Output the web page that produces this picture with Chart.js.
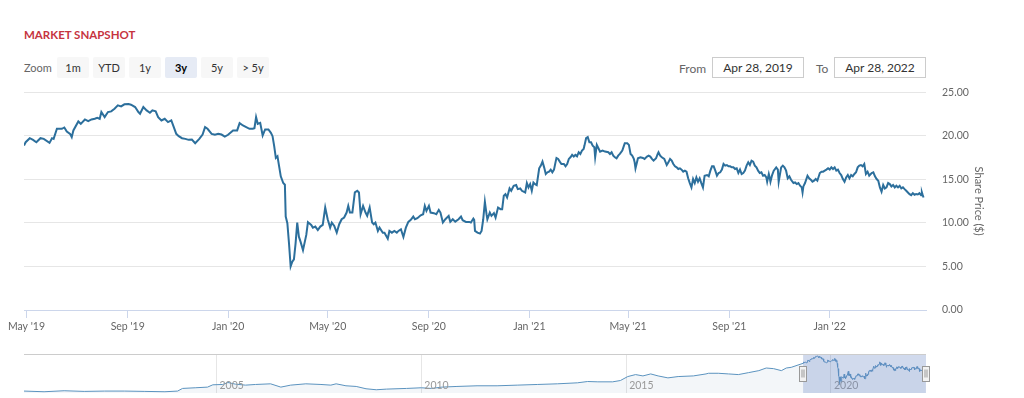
<!DOCTYPE html>
<html>
<head>
<meta charset="utf-8">
<script src="https://cdn.jsdelivr.net/npm/chart.js@4.4.0/dist/chart.umd.min.js"></script>
<style>
body{margin:0;width:1024px;height:398px;overflow:hidden;background:#fff;font-family:Lato,"Open Sans",sans-serif;position:relative}
#title{position:absolute;left:24px;top:28px;font-size:11.5px;font-weight:700;color:#c6343f}
.lbl{position:absolute;top:61px;font-size:11px;color:#666}
.btn{position:absolute;top:57px;width:32px;height:21px;line-height:21px;text-align:center;font-size:11px;color:#333;background:#f7f7f7;border-radius:2px}
.btn.on{background:#e6ebf5;font-weight:700;color:#000}
.box{position:absolute;top:57px;width:90px;height:19px;line-height:19px;border:1px solid #ccc;text-align:center;font-size:12px;color:#333}
canvas{position:absolute;left:0}
</style>
</head>
<body>
<div id="title">MARKET SNAPSHOT</div>
<span class="lbl" style="left:24px">Zoom</span>
<div class="btn" style="left:57px">1m</div>
<div class="btn" style="left:93px">YTD</div>
<div class="btn" style="left:129px">1y</div>
<div class="btn on" style="left:165px">3y</div>
<div class="btn" style="left:201px">5y</div>
<div class="btn" style="left:237px">&gt; 5y</div>
<span class="lbl" style="left:679px;font-size:12px">From</span>
<div class="box" style="left:712px">Apr 28, 2019</div>
<span class="lbl" style="left:816px;font-size:12px">To</span>
<div class="box" style="left:834px">Apr 28, 2022</div>
<canvas id="mainChart" width="989" height="270" style="top:70px"></canvas>
<canvas id="navChart" width="1024" height="48" style="top:350px"></canvas>
<script>
// share price, days counted from Apr 28, 2019
let startDate = '2019-04-28';
let endDate = '2022-04-28';
let days = [0,2,7,11,15,20,24,31,34,36,40,46,49,52,56,58,60,66,69,74,78,82,86,89,92,94,98,102,106,110,114,118,122,127,130,135,139,141,145,149,153,156,160,163,167,171,175,179,182,185,188,192,196,200,204,208,213,217,220,223,228,232,236,240,244,248,254,259,262,266,270,274,
278,280,282,284,287,290,293,297,300,302,304,306,308,310,312,315,317,318,320,322,324,326,328,330,332,334,336,339,343,345,349,351,354,357,360,363,366,369,372,374,377,380,383,386,389,392,394,396,399,402,405,407,409,412,415,417,420,423,425,427,430,432,436,438,442,444,447,450,453,455,458,461,464,467,470,473,475,478,482,485,487,489,492,494,498,501,504,506,509,512,516,518,521,524,528,531,533,537,541,
543,546,547,548,551,554,556,558,560,562,563,566,568,571,573,576,579,581,583,585,587,590,592,595,598,600,603,605,609,611,613,615,617,619,621,623,626,628,630,632,634,636,638,640,642,644,646,647,649,651,653,656,658,660,662,664,666,668,670,672,674,676,678,680,681,683,685,687,689,691,693,694,696,698,700,703,706,710,712,714,716,718,720,722,724,727,729,730,733,735,737,739,741,742,743,746,749,752,754,757,759,761,763,765,768,770,771,773,775,778,781,783,785,787,789,791,793,795,797,799,801,803,805,807,
809,811,813,815,817,819,821,823,825,827,830,832,834,836,838,840,842,844,846,848,850,852,854,856,858,860,862,864,866,868,870,872,874,876,878,880,882,884,886,888,890,892,894,896,898,900,902,903,905,906,907,909,911,914,916,917,920,922,924,926,928,930,932,935,937,939,941,943,945,946,947,949,952,954,956,958,960,962,964,967,969,971,973,975,977,979,981,983,985,987,989,991,993,995,997,999,1001,1003,1005,1007,1009,1011,1013,1015,1017,1019,1021,1023,1025,1027,1030,1032,1034,1036,1038,1040,1042,1044,1046,1048,1050,1052,1054,1056,1058,1060,1062,1064,1066,1068,1070,1072,1074,1076,1078,1080,1082,1084,1086,1088,1090,1091,1092,1093];
let prices = [18.88,19.27,19.73,19.54,19.27,19.73,19.65,19.19,19.73,19.65,20.81,20.81,20.96,20.5,20.23,19.85,20.62,21.65,21.38,21.88,21.69,21.88,21.96,22.08,21.96,22.73,22.15,22.73,22.81,23.12,23.5,23.38,23.62,23.65,23.58,23.31,22.73,22.54,23.31,22.92,22.65,22.92,22.81,22.15,21.77,21.96,21.58,21.77,21.0,20.23,19.96,19.73,19.65,19.54,19.58,19.15,19.65,20.15,21.0,20.81,20.23,20.12,20.23,20.15,19.92,20.12,20.62,20.62,21.46,21.19,21.0,20.81,
20.81,20.88,22.15,21.38,21.5,20.04,20.73,20.73,20.35,19.96,18.81,17.46,17.65,16.5,15.35,14.58,14.38,10.73,9.96,7.65,5.0,5.54,5.81,7.65,10.04,8.42,7.85,6.88,8.62,10.08,9.77,9.46,9.58,9.19,9.58,9.77,11.77,10.42,9.46,10.04,9.65,8.88,9.85,10.42,10.62,11.19,11.96,11.19,11.19,13.5,13.69,13.5,11.0,11.96,11.19,10.81,11.77,10.04,9.85,10.04,9.08,9.46,8.88,8.88,8.19,9.08,8.88,9.08,8.88,9.08,9.27,8.38,9.46,10.12,10.35,10.73,10.42,10.54,10.88,11.0,11.96,11.38,11.96,11.19,11.12,11.0,11.5,11.19,10.04,10.42,10.81,10.12,10.42,10.15,10.42,10.73,10.31,10.12,10.12,
10.04,10.5,10.35,9.08,8.88,8.77,9.08,10.42,12.42,11.0,10.42,11.19,10.81,11.12,10.62,11.77,11.58,11.58,13.12,13.31,12.92,13.96,13.69,14.27,14.35,13.88,13.96,13.69,13.5,14.58,14.08,14.46,13.69,14.65,14.46,14.35,16.27,16.58,17.04,16.38,15.62,15.81,15.88,16.12,15.81,16.12,17.04,17.46,17.35,17.04,16.77,16.77,16.5,16.77,17.35,17.54,17.81,17.62,17.81,17.65,18.12,17.92,18.31,18.5,18.88,19.73,19.85,19.27,19.27,18.88,18.69,17.54,18.96,18.58,18.19,18.31,18.19,18.12,17.92,18.12,17.73,17.54,17.42,17.73,17.92,18.31,18.88,19.15,19.15,18.96,17.92,17.73,17.35,16.96,16.27,17.42,17.54,17.46,17.35,17.62,17.73,17.62,17.35,17.15,17.42,17.92,18.12,17.73,17.54,17.35,16.65,16.96,17.35,17.15,16.77,16.5,16.38,16.19,16.27,16.12,15.88,16.0,15.88,15.12,
14.58,14.08,15.04,14.58,15.23,14.73,15.12,14.58,14.08,15.42,15.5,15.35,16.0,16.5,16.5,16.0,15.42,15.73,15.81,16.12,16.77,16.58,16.65,16.5,16.5,16.38,16.38,16.19,16.27,15.73,16.12,15.62,15.73,16.0,16.58,16.96,16.65,17.15,17.04,16.58,16.38,16.0,15.73,15.81,15.42,15.5,15.23,14.73,15.62,15.23,14.73,15.5,16.0,16.38,16.12,14.73,16.38,16.58,16.38,16.0,15.12,15.35,14.96,14.58,14.65,14.46,14.58,14.27,14.08,13.5,14.19,14.58,15.42,15.12,14.96,14.73,14.85,15.04,14.85,15.73,15.88,15.88,16.0,16.12,16.27,16.12,16.38,16.19,16.38,16.0,16.12,15.73,15.5,15.04,14.73,15.23,15.5,15.12,15.5,15.35,15.62,15.81,16.38,16.58,16.65,16.5,16.77,15.62,15.88,15.42,15.73,15.81,15.35,15.04,14.85,14.08,13.58,14.35,13.96,14.08,14.58,14.46,14.19,14.35,14.08,14.27,14.08,14.27,13.96,14.08,13.88,13.69,13.5,13.31,13.19,13.42,13.23,13.31,13.27,13.42,13.19,13.5,13.19,12.92];

let tickDates = ['2019-05-01','2019-09-01','2020-01-01','2020-05-01','2020-09-01','2021-01-01','2021-05-01','2021-09-01','2022-01-01'];
let tickLabels = ["May '19","Sep '19","Jan '20","May '20","Sep '20","Jan '21","May '21","Sep '21","Jan '22"];
let yTicks = [0,5,10,15,20,25];

// longer history for the navigator strip (decimal years)
let histYears = [2000.30,2000.79,2001.28,2001.77,2002.27,2002.76,2003.25,2003.74,2004.05,2004.17,2004.48,2004.78,2004.91,2005.15,2005.28,2005.46,2005.71,2005.95,2006.32,2006.57,2006.81,2007.18,2007.55,2007.79,2007.92,2008.16,2008.41,2008.65,2008.90,2009.15,2009.64,2010.00,2010.25,2010.50,2010.87,2011.36,2011.85,2012.34,2012.83,2013.32,2013.81,2014.06,2014.31,2014.67,2014.86,2015.04,2015.23,2015.41,2015.60,2015.78,2016.02,2016.27,2016.64,2016.95,2017.01,2017.25,2017.50,2017.74,2017.99,2018.24,2018.42,2018.60,2018.79,2018.91,2019.03,2019.22];
let histPrices = [0.67,0.23,0.88,0.45,0.67,0.67,0.45,0.23,0.67,2.4,2.83,3.26,4.78,5.0,6.29,5.21,4.56,5.0,5.43,3.26,4.56,5.43,5.0,4.56,5.43,4.13,3.7,2.18,1.53,1.96,2.4,2.83,2.4,3.26,3.7,4.13,4.13,4.56,5.0,5.43,6.08,6.94,6.73,6.73,7.59,10.19,11.49,10.62,11.92,10.62,9.32,10.19,10.62,11.92,12.35,12.35,11.92,11.49,12.78,14.08,15.81,15.38,14.08,15.81,16.25,17.98];
let navYears = [2005,2010,2015,2020];

const DAY = 86400000;
let t0 = Date.parse(startDate);
let totalDays = (Date.parse(endDate) - t0) / DAY;
let tickDays = tickDates.map(d => (Date.parse(d) - t0) / DAY);
function toYear(ds) {
    let d = new Date(ds);
    let y = d.getUTCFullYear();
    return y + (Date.parse(ds) - Date.UTC(y, 0, 1)) / (Date.UTC(y + 1, 0, 1) - Date.UTC(y, 0, 1));
}
let startYear = toYear(startDate);
let endYear = toYear(endDate);

Chart.defaults.font.family = 'Lato, "Open Sans", sans-serif';
Chart.defaults.animation = false;

let mainPts = days.map((d, i) => ({x: d, y: prices[i]}));

let ctx = document.getElementById('mainChart').getContext('2d');
let mainChart = new Chart(ctx, {
    type: 'line',
    data: {
        datasets: [{
            data: mainPts,
            borderColor: '#2c6f9c',
            borderWidth: 2,
            pointRadius: 0,
            tension: 0,
            fill: false
        }]
    },
    options: {
        responsive: false,
        layout: {padding: {left: 24, top: 2, right: 0, bottom: 0}},
        plugins: {legend: {display: false}, tooltip: {enabled: false}},
        scales: {
            x: {
                type: 'linear',
                min: 0,
                max: totalDays,
                afterBuildTicks: s => { s.ticks = tickDays.map(v => ({value: v})); },
                afterFit: s => { s.height = 30; },
                grid: {drawOnChartArea: false, drawTicks: true, tickLength: 8, color: '#ccd6eb'},
                border: {color: '#ccd6eb'},
                ticks: {
                    autoSkip: false,
                    maxRotation: 0,
                    padding: 2,
                    color: '#666',
                    font: {size: 10.5},
                    callback: (v, i) => tickLabels[i]
                }
            },
            y: {
                position: 'right',
                min: 0,
                max: 25,
                afterBuildTicks: s => { s.ticks = yTicks.map(v => ({value: v})); },
                afterFit: s => { s.width = 63; },
                grid: {color: '#e6e6e6', drawTicks: false},
                border: {display: false},
                ticks: {
                    padding: 16,
                    color: '#666',
                    font: {size: 10.5},
                    callback: v => v.toFixed(2)
                },
                title: {
                    display: true,
                    text: 'Share Price ($)',
                    color: '#666',
                    font: {size: 11},
                    padding: {top: 4, bottom: 4}
                }
            }
        }
    }
});

// navigator: history + the 3y series
let navPts = histYears.map((y, i) => ({x: y, y: histPrices[i]}))
    .concat(days.map((d, i) => ({x: startYear + d / 365.25, y: prices[i]})));

let navPlugin = {
    id: 'navExtras',
    afterDatasetsDraw(chart) {
        let c = chart.ctx, a = chart.chartArea, x = chart.scales.x;
        c.save();
        c.fillStyle = '#999';
        c.font = '10.5px Lato, "Open Sans", sans-serif';
        c.textBaseline = 'middle';
        navYears.forEach(y => c.fillText(String(y), x.getPixelForValue(y) + 3, a.bottom - 7));
        let x0 = x.getPixelForValue(startYear), x1 = x.getPixelForValue(endYear);
        c.fillStyle = 'rgba(102,133,194,0.3)';
        c.fillRect(x0, a.top, x1 - x0, a.bottom - a.top);
        c.strokeStyle = '#cccccc';
        c.lineWidth = 1;
        c.beginPath();
        c.moveTo(a.left, a.top + 0.5);
        c.lineTo(a.right, a.top + 0.5);
        c.stroke();
        let mid = (a.top + a.bottom) / 2;
        [x0, x1].forEach(h => {
            let hx = Math.round(h) - 4;
            c.fillStyle = '#f2f2f2';
            c.strokeStyle = '#999';
            c.fillRect(hx + 0.5, Math.round(mid - 8) + 0.5, 7, 15);
            c.strokeRect(hx + 0.5, Math.round(mid - 8) + 0.5, 7, 15);
            c.beginPath();
            c.moveTo(hx + 3, mid - 4); c.lineTo(hx + 3, mid + 4);
            c.moveTo(hx + 5, mid - 4); c.lineTo(hx + 5, mid + 4);
            c.stroke();
        });
        c.restore();
    }
};

let nctx = document.getElementById('navChart').getContext('2d');
let navChart = new Chart(nctx, {
    type: 'line',
    data: {
        datasets: [{
            data: navPts,
            borderColor: '#5b93bf',
            borderWidth: 1,
            backgroundColor: 'rgba(51,102,153,0.06)',
            fill: 'start',
            pointRadius: 0,
            tension: 0
        }]
    },
    options: {
        responsive: false,
        layout: {padding: {left: 24, right: 98, top: 4, bottom: 5}},
        plugins: {legend: {display: false}, tooltip: {enabled: false}},
        scales: {
            x: {
                type: 'linear',
                min: histYears[0],
                max: endYear,
                afterBuildTicks: s => { s.ticks = navYears.map(v => ({value: v})); },
                afterFit: s => { s.height = 0; },
                grid: {color: '#e6e6e6', drawTicks: false},
                border: {display: false},
                ticks: {display: false}
            },
            y: {display: false, min: -0.6, max: 25}
        }
    },
    plugins: [navPlugin]
});
</script>
</body>
</html>
